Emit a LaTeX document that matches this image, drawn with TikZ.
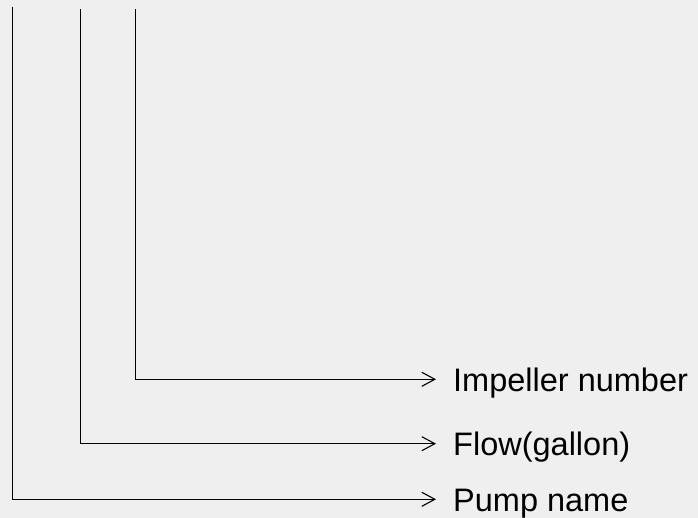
\documentclass[tikz,border=0pt]{standalone}
\usepackage{fontspec}
\setmainfont{Liberation Sans}
\usetikzlibrary{arrows.meta}
\definecolor{bggray}{HTML}{EFEFEF}

\begin{document}
\begin{tikzpicture}[x=1pt,y=-1pt,
  lead/.style={draw=black,line width=1.4pt,-{Straight Barb[length=13pt,width=14pt,line width=1.1pt]}},
  lbl/.style={anchor=west,inner sep=0pt,text height=24pt,text depth=0pt,
    font=\fontsize{32.5}{36}\selectfont}]
\fill[bggray] (0,0) rectangle (698,518);
\useasboundingbox (0,0) rectangle (698,518);
% labels on the right
\node[lbl] (impeller) at (453,379.3) {Impeller number};
\node[lbl] (flow) at (453,443.7) {Flow(gallon)};
\node[lbl] (pump) at (453,499.3) {Pump name};
% tops of the leads
\coordinate (tpump) at (12.3,6.7);
\coordinate (tflow) at (80.7,9.3);
\coordinate (timpeller) at (135.3,9.3);
\draw[lead] (tpump) |- ([xshift=-17pt]pump.west);
\draw[lead] (tflow) |- ([xshift=-17pt]flow.west);
\draw[lead] (timpeller) |- ([xshift=-17pt]impeller.west);
\end{tikzpicture}
\end{document}
